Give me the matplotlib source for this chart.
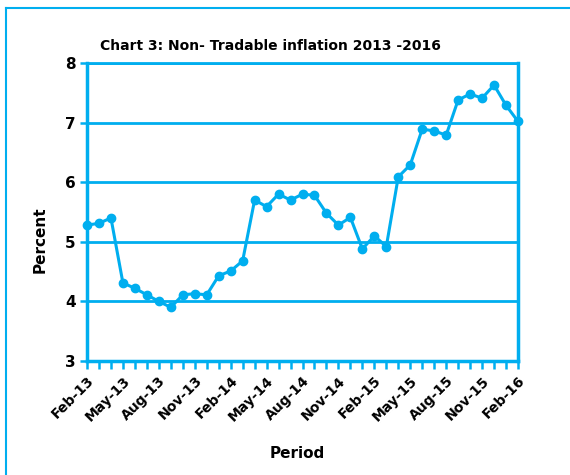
import matplotlib
matplotlib.use("Agg")
import matplotlib.pyplot as plt
from matplotlib.lines import Line2D

months = ["Feb-13","Mar-13","Apr-13","May-13","Jun-13","Jul-13","Aug-13","Sep-13","Oct-13","Nov-13","Dec-13","Jan-14",
          "Feb-14","Mar-14","Apr-14","May-14","Jun-14","Jul-14","Aug-14","Sep-14","Oct-14","Nov-14","Dec-14","Jan-15",
          "Feb-15","Mar-15","Apr-15","May-15","Jun-15","Jul-15","Aug-15","Sep-15","Oct-15","Nov-15","Dec-15","Jan-16",
          "Feb-16"]
values = [5.28, 5.31, 5.40, 4.31, 4.22, 4.11, 4.00, 3.90, 4.11, 4.13, 4.11, 4.43,
          4.51, 4.68, 5.70, 5.59, 5.80, 5.70, 5.80, 5.78, 5.48, 5.28, 5.41, 4.88,
          5.10, 4.92, 6.09, 6.29, 6.89, 6.86, 6.79, 7.38, 7.48, 7.41, 7.63, 7.29,
          7.02]
yticks = [3, 4, 5, 6, 7, 8]

BLUE = "#00AEEF"
W, H = 570, 475
fig = plt.figure(figsize=(W/100, H/100), dpi=100)
ax = fig.add_axes([87/W, 1-361/H, (518-87)/W, (361-63)/H])

x = list(range(len(months)))
ax.plot(x, values, color=BLUE, lw=2.2, marker='o', ms=6, zorder=3, clip_on=False)

ax.set_xlim(0, len(months)-1)
ax.set_ylim(3, 8)
ax.set_yticks(yticks)
ax.set_yticklabels([str(v) for v in yticks], fontsize=11, fontweight='bold')
ax.set_xticks(x)
ax.set_xticklabels([m if i % 3 == 0 else "" for i, m in enumerate(months)],
                   rotation=45, ha='right', rotation_mode='anchor',
                   fontsize=10, fontweight='bold')
ax.tick_params(axis='x', colors=BLUE, length=6, width=1.8, labelcolor='black', pad=3)
ax.tick_params(axis='y', colors=BLUE, length=5, width=1.8, labelcolor='black', pad=3)
ax.grid(axis='y', color=BLUE, lw=2)
ax.set_axisbelow(True)
for s in ax.spines.values():
    s.set_color(BLUE)
    s.set_linewidth(2.5)
ax.spines['top'].set_linewidth(2)

fig.text(270/W, 1-46/H, "Chart 3: Non- Tradable inflation 2013 -2016",
         ha='center', va='center', fontsize=10, fontweight='bold')
fig.text(40/W, 1-240/H, "Percent", rotation=90, ha='center', va='center',
         fontsize=11, fontweight='bold')
fig.text(297/W, 1-453/H, "Period", ha='center', va='center',
         fontsize=11, fontweight='bold')

fig.add_artist(Line2D([6/W, 6/W], [0, 1-8/H], color=BLUE, lw=1.5, transform=fig.transFigure))
fig.add_artist(Line2D([6/W, 1], [1-8/H, 1-8/H], color=BLUE, lw=1.5, transform=fig.transFigure))

fig.savefig("out.png", dpi=100)
